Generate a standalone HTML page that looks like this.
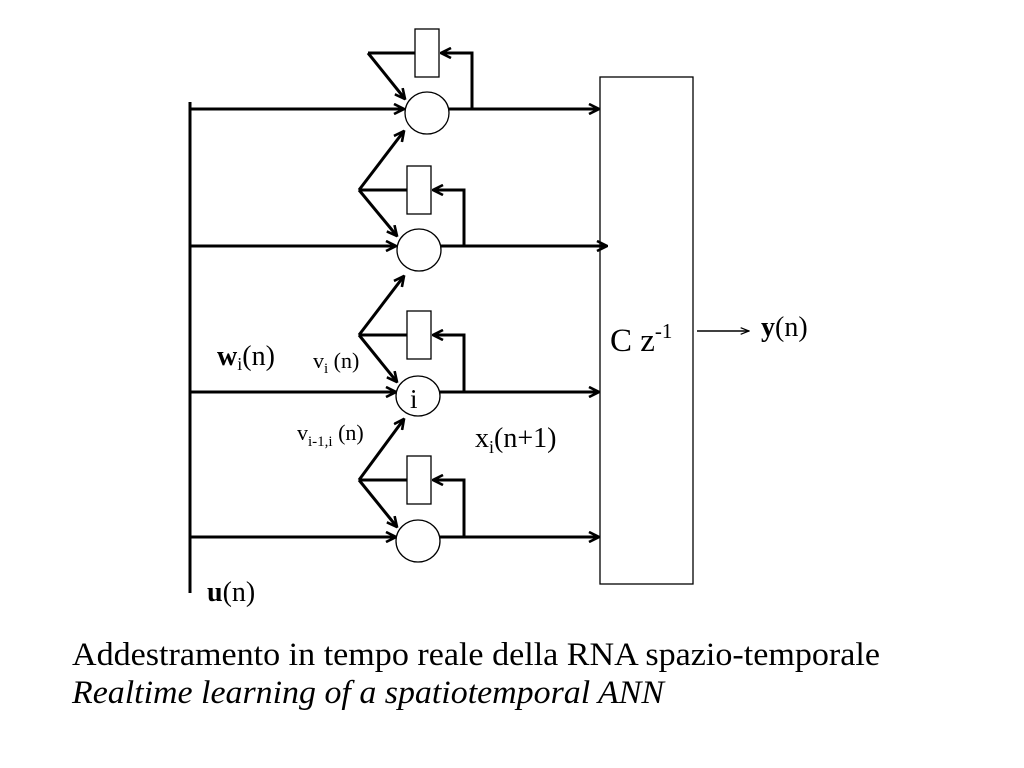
<!DOCTYPE html>
<html><head><meta charset="utf-8"><style>html,body{margin:0;padding:0;background:#fff}svg{display:block}svg text{font-family:"Liberation Serif","Times New Roman",serif}</style></head>
<body>
<svg width="1024" height="768" viewBox="0 0 1024 768" xmlns="http://www.w3.org/2000/svg">
<defs>
<marker id="a" viewBox="0 0 12 12" refX="11" refY="6" markerWidth="12" markerHeight="12" markerUnits="userSpaceOnUse" orient="auto">
<path d="M1,1 L11,6 L1,11" fill="none" stroke="#000" stroke-width="2.6"/>
</marker>
<marker id="s" viewBox="0 0 12 12" refX="11" refY="6" markerWidth="10" markerHeight="10" markerUnits="userSpaceOnUse" orient="auto">
<path d="M1,2 L11,6 L1,10" fill="none" stroke="#000" stroke-width="1.5"/>
</marker>
</defs>
<g stroke="#000" stroke-width="3" fill="none">
<line x1="190" y1="102" x2="190" y2="593"/>
<line x1="190" y1="109" x2="404" y2="109" marker-end="url(#a)"/>
<line x1="449" y1="109" x2="599" y2="109" marker-end="url(#a)"/>
<polyline points="472,109 472,53 441,53" marker-end="url(#a)"/>
<line x1="368" y1="53" x2="415" y2="53"/>
<line x1="368" y1="53" x2="405" y2="99" marker-end="url(#a)"/>
<line x1="190" y1="246" x2="396" y2="246" marker-end="url(#a)"/>
<line x1="441" y1="246" x2="607" y2="246" marker-end="url(#a)"/>
<polyline points="464,246 464,190 433,190" marker-end="url(#a)"/>
<line x1="359" y1="190" x2="407" y2="190"/>
<line x1="359" y1="190" x2="404" y2="131" marker-end="url(#a)"/>
<line x1="359" y1="190" x2="397" y2="236" marker-end="url(#a)"/>
<line x1="190" y1="392" x2="396" y2="392" marker-end="url(#a)"/>
<line x1="440" y1="392" x2="599" y2="392" marker-end="url(#a)"/>
<polyline points="464,392 464,335 433,335" marker-end="url(#a)"/>
<line x1="359" y1="335" x2="407" y2="335"/>
<line x1="359" y1="335" x2="404" y2="276" marker-end="url(#a)"/>
<line x1="359" y1="335" x2="397" y2="382" marker-end="url(#a)"/>
<line x1="190" y1="537" x2="396" y2="537" marker-end="url(#a)"/>
<line x1="440" y1="537" x2="599" y2="537" marker-end="url(#a)"/>
<polyline points="464,537 464,480 433,480" marker-end="url(#a)"/>
<line x1="359" y1="480" x2="407" y2="480"/>
<line x1="359" y1="480" x2="404" y2="419" marker-end="url(#a)"/>
<line x1="359" y1="480" x2="397" y2="527" marker-end="url(#a)"/>
</g>
<g stroke="#000" stroke-width="1.3" fill="#fff">
<rect x="415" y="29" width="24" height="48"/>
<rect x="407" y="166" width="24" height="48"/>
<rect x="407" y="311" width="24" height="48"/>
<rect x="407" y="456" width="24" height="48"/>
<ellipse cx="427" cy="113" rx="22" ry="21"/>
<ellipse cx="419" cy="250" rx="22" ry="21"/>
<ellipse cx="418" cy="396" rx="22" ry="20"/>
<ellipse cx="418" cy="541" rx="22" ry="21"/>
<rect x="600" y="77" width="93" height="507" fill="none"/>
</g>
<line x1="697" y1="331" x2="749" y2="331" stroke="#000" stroke-width="1.5" marker-end="url(#s)"/>
<g fill="#000">
<text x="410" y="408" font-size="27">i</text>
<text x="610" y="351" font-size="33">C z<tspan font-size="21" dy="-13">-1</tspan></text>
<text x="761" y="336" font-size="28"><tspan font-weight="bold">y</tspan>(n)</text>
<text x="217" y="365" font-size="28"><tspan font-weight="bold">w</tspan><tspan font-size="18" dy="5">i</tspan><tspan dy="-5">(n)</tspan></text>
<text x="313" y="368" font-size="22">v<tspan font-size="15" dy="5">i</tspan><tspan dy="-5"> (n)</tspan></text>
<text x="297" y="440" font-size="22">v<tspan font-size="15" dy="6">i-1,i</tspan><tspan dy="-6"> (n)</tspan></text>
<text x="475" y="447" font-size="28">x<tspan font-size="18" dy="6">i</tspan><tspan dy="-6">(n+1)</tspan></text>
<text x="207" y="601" font-size="28"><tspan font-weight="bold">u</tspan>(n)</text>
<text x="72" y="665" font-size="33" textLength="808" lengthAdjust="spacingAndGlyphs">Addestramento in tempo reale della RNA spazio-temporale</text>
<text x="72" y="703" font-size="33" font-style="italic" textLength="592" lengthAdjust="spacingAndGlyphs">Realtime learning of a spatiotemporal ANN</text>
</g>
</svg>
</body></html>
